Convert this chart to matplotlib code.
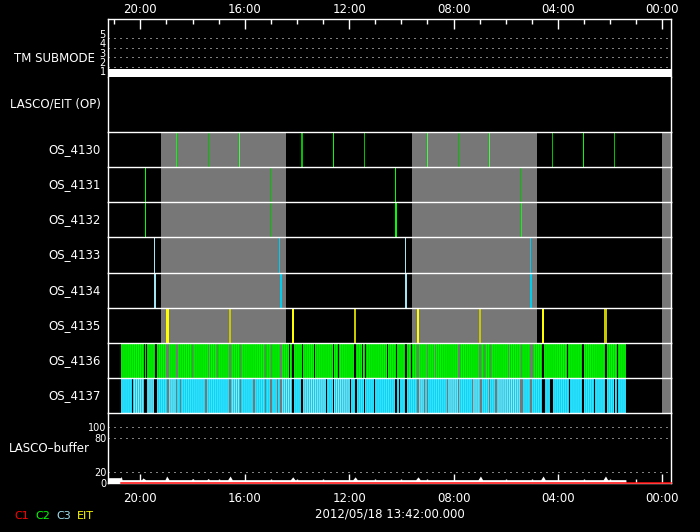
import matplotlib
matplotlib.use('Agg')
import matplotlib.pyplot as plt
import matplotlib.transforms as mtransforms
from matplotlib.ticker import MultipleLocator, FuncFormatter
from matplotlib.patches import Rectangle

# ---------------- data (time axis in hours, reversed) ----------------
x_range = (21.238, -0.33)
submode_level = 1
submode_ticks = [1, 2, 3, 4, 5]
buffer_ticks = [0, 20, 80, 100]

row_names = ["OS_4130", "OS_4131", "OS_4132", "OS_4133",
             "OS_4134", "OS_4135", "OS_4136", "OS_4137"]

# grey shaded intervals (start, end) in hours
gap_intervals = [(19.207, 14.418), (9.590, 4.801), (0.011, -0.33)]

os4130_times = [18.621, 17.395, 16.207, 13.816, 12.605, 11.418,
                9.004, 7.816, 6.628, 4.215, 3.027, 1.839]
os4131_times = [19.808, 15.019, 10.230, 5.441]
os4132_times = [19.808, 15.019, 10.203, 5.402]
os4133_times = [19.464, 14.674, 9.847, 5.057]
os4134_times = [19.452, 14.621, 9.820, 5.031]
os4135_times = [18.966, 16.563, 14.161, 11.774, 9.360, 6.973, 4.571, 2.184]

os4136_segments = [
    (20.751, 19.858), (19.820, 19.789), (19.743, 19.437), (19.360, 19.027),
    (18.900, 18.621), (18.567, 18.019), (17.969, 17.406), (17.368, 17.061),
    (17.023, 16.590), (16.513, 16.192), (16.130, 15.222), (15.184, 14.992),
    (14.966, 14.636), (14.571, 14.303), (14.264, 14.188), (14.111, 13.805),
    (13.766, 13.345), (13.307, 12.617), (12.579, 12.425), (12.387, 11.812),
    (11.736, 11.506), (11.468, 11.391), (11.353, 10.548), (10.510, 10.203),
    (10.165, 9.858), (9.782, 9.628), (9.590, 9.399), (9.322, 9.015),
    (8.977, 8.709), (8.671, 7.828), (7.751, 7.023), (6.946, 6.831),
    (6.793, 6.602), (6.563, 5.912), (5.874, 5.414), (5.376, 5.069),
    (4.954, 4.609), (4.533, 3.651), (3.613, 3.077), (3.000, 2.195),
    (2.119, 1.736), (1.697, 1.391)]

os4137_segments = [
    (20.751, 20.318), (19.360, 18.977), (18.594, 18.479), (18.441, 17.510),
    (17.456, 16.602), (16.130, 15.671), (15.617, 15.222), (15.184, 15.031),
    (14.954, 14.763), (14.724, 14.648), (14.111, 13.843), (12.847, 12.617),
    (11.927, 11.774), (11.697, 11.429), (11.391, 11.046), (11.008, 10.241),
    (10.165, 10.088), (10.050, 9.858), (9.782, 9.399), (9.092, 9.015),
    (8.977, 8.249), (7.789, 7.291), (6.908, 6.640), (6.602, 6.410),
    (5.337, 5.069), (4.992, 4.609), (4.494, 4.303), (4.188, 3.575),
    (3.536, 3.077), (3.000, 2.617), (2.579, 2.195), (2.119, 1.851),
    (1.812, 1.736), (1.697, 1.391)]
os4137_pale_segments = [
    (20.268, 19.858), (19.743, 19.475), (18.900, 18.644), (16.513, 16.192),
    (14.571, 14.188), (13.766, 12.885), (12.579, 11.966), (9.322, 9.130),
    (8.211, 7.828), (7.253, 6.985), (6.333, 5.452)]

buffer_time = [21.238, 20.751, 20.73, 20.70, 19.95, 19.90, 19.80, 19.05, 18.99,
               18.90, 18.05, 18.00, 17.95, 17.45, 17.40, 17.35, 16.65, 16.56,
               16.48, 14.25, 14.16, 14.08, 11.86, 11.77, 11.69, 9.45, 9.36,
               9.28, 7.06, 6.97, 6.89, 4.66, 4.57, 4.49, 2.27, 2.18, 2.10,
               1.40, 1.39]
buffer_value = [9.5, 9.5, 12, 6, 6, 9, 6, 6, 12.5,
                6, 6, 7.5, 6, 6, 8, 6, 6, 12.5,
                6, 6, 11, 6, 6, 11, 6, 6, 11,
                6, 6, 12.5, 6, 6, 12.5, 6, 6, 12.5, 6,
                6, 0]
c1_time = [20.751, -0.33]
c1_value = [0, 0]

date_text = "2012/05/18 13:42:00.000"
legend_labels = ["C1", "C2", "C3", "EIT"]

# ---------------- styles ----------------
W, H = 700, 532
PX = 0.72
WHITE = 'white'
GREY = '#777777'
FONT = dict(family='DejaVu Sans', size=8.5, color=WHITE)
plt.rcParams['hatch.linewidth'] = 0.7

green_b, green_d, green_l = '#00ff00', '#00c000', '#40ff40'
cyan_b, cyan_l = '#00ccee', '#a0e4f4'
yel_b, yel_d = '#ffff00', '#c8c800'

os4130_colors = [green_b, green_d, green_l, green_d, green_b, green_d,
                 green_l, green_d, green_l, green_d, green_b, green_d]
os4130_widths = [1, 1, 1, 2, 1, 1, 1, 1, 1, 1, 1, 1]
os4131_colors = [green_b, green_d, green_b, green_d]
os4132_colors = [green_b, green_d, green_b, green_b]
os4132_widths = [1, 1, 2, 1]
os4133_colors = [cyan_l, cyan_b, cyan_l, cyan_b]
os4134_colors = [cyan_l, cyan_b, cyan_l, cyan_b]
os4135_colors = [yel_b, yel_d, yel_b, yel_d, yel_b, yel_d, yel_b, yel_d]
os4135_widths = [3, 2, 2, 2, 2, 2, 2, 3]
legend_colors = ['#ff0000', '#00ff00', '#a0e0f0', '#ffff00']
legend_x = [14, 35, 56, 77]


def rect(y0, y1, x0=108, x1=671):
    return [x0 / W, 1 - y1 / H, (x1 - x0) / W, (y1 - y0) / H]


def px_text(x, y, s, **kw):
    d = dict(FONT)
    d.update(kw)
    fig.text(x / W, 1 - y / H, s, **d)


def style_axes(ax, top=True, bottom=False):
    ax.set_facecolor('black')
    ax.set_xlim(*x_range)
    for side in ['left', 'right']:
        ax.spines[side].set_color(WHITE)
        ax.spines[side].set_linewidth(1.0)
    ax.spines['top'].set_visible(top)
    ax.spines['top'].set_color(WHITE)
    ax.spines['top'].set_linewidth(1.0)
    ax.spines['bottom'].set_visible(bottom)
    ax.spines['bottom'].set_color(WHITE)
    ax.spines['bottom'].set_linewidth(1.0)
    ax.tick_params(left=False, right=False, top=False, bottom=False,
                   labelleft=False, labelbottom=False, labeltop=False)


hour_fmt = FuncFormatter(lambda v, p: f"{int(round(v)) % 24:02d}:00")

fig = plt.figure(figsize=(W / 100, H / 100), dpi=100, facecolor='black')

# ---- TM submode panel ----
ax_tm = fig.add_axes(rect(19, 77))
style_axes(ax_tm, top=True)
ax_tm.set_ylim(0.915, 7.04)
ax_tm.plot(list(x_range), [submode_level, submode_level], color=WHITE,
           lw=14 * PX, solid_capstyle='butt')
for lv in submode_ticks[1:]:
    ax_tm.axhline(lv, color=WHITE, lw=PX, linestyle=(0, (1, 5)))
ax_tm.set_yticks(submode_ticks)
ax_tm.set_yticklabels([str(v) for v in submode_ticks])
ax_tm.tick_params(axis='y', left=True, length=0, pad=1.5, labelleft=True,
                  labelsize=7, labelcolor=WHITE)
offset = mtransforms.ScaledTranslation(0, 4.7 / 100, fig.dpi_scale_trans)
for lab in ax_tm.get_yticklabels():
    lab.set_transform(lab.get_transform() + offset)
ax_tm.xaxis.set_major_locator(MultipleLocator(4))
ax_tm.xaxis.set_minor_locator(MultipleLocator(1))
ax_tm.xaxis.set_major_formatter(hour_fmt)
ax_tm.tick_params(axis='x', which='both', top=True, bottom=False,
                  labeltop=True, labelbottom=False, direction='in',
                  color=WHITE, labelcolor=WHITE, labelsize=8.5, width=1.0)
ax_tm.tick_params(axis='x', which='major', length=10 * PX, pad=2.0)
ax_tm.tick_params(axis='x', which='minor', length=5 * PX)

# ---- LASCO/EIT OP panel ----
ax_op = fig.add_axes(rect(77, 132))
style_axes(ax_op, top=False)

# ---- OS rows ----
row_edges = [132 + i * (413 - 132) / 8 for i in range(9)]
row_axes = []
for i in range(8):
    ax = fig.add_axes(rect(row_edges[i], row_edges[i + 1]))
    style_axes(ax, top=True)
    ax.set_ylim(0, 1)
    for g0, g1 in gap_intervals:
        ax.axvspan(g0, g1, color=GREY, lw=0, zorder=0)
    row_axes.append(ax)


def draw_lines(ax, times, colors, widths=None):
    if widths is None:
        widths = [1] * len(times)
    ax.vlines(times, 0, 1, colors=colors, linewidths=[w * PX for w in widths],
              antialiaseds=False, zorder=2)


draw_lines(row_axes[0], os4130_times, os4130_colors, os4130_widths)
draw_lines(row_axes[1], os4131_times, os4131_colors)
draw_lines(row_axes[2], os4132_times, os4132_colors, os4132_widths)
draw_lines(row_axes[3], os4133_times, os4133_colors)
draw_lines(row_axes[4], os4134_times, os4134_colors, [2, 2, 2, 2])
draw_lines(row_axes[5], os4135_times, os4135_colors, os4135_widths)


def draw_segments(ax, segs, face, hatch_col):
    for a, b in segs:
        ax.add_patch(Rectangle((a, 0), b - a, 1, facecolor=face,
                               edgecolor=hatch_col, hatch='|' * 8, lw=0,
                               zorder=2))


draw_segments(row_axes[6], os4136_segments, '#00d000', green_b)
draw_segments(row_axes[7], os4137_segments, '#00d8f8', '#50e0f8')
draw_segments(row_axes[7], os4137_pale_segments, '#00d0f0', '#b0e0ec')

for ax, name, y0, y1 in zip(row_axes, row_names, row_edges[:-1], row_edges[1:]):
    px_text(101, (y0 + y1) / 2, name, ha='right', va='center')

# ---- LASCO buffer panel ----
ax_buf = fig.add_axes(rect(413, 483))
style_axes(ax_buf, top=True, bottom=True)
ax_buf.set_ylim(0, 125)
for lv in buffer_ticks[1:]:
    ax_buf.axhline(lv, color=WHITE, lw=PX, linestyle=(0, (1, 5)))
ax_buf.fill_between(buffer_time, 0, buffer_value, color=WHITE, lw=0, zorder=2)
ax_buf.plot(c1_time, c1_value, color='#ff0000', lw=1.5 * PX, zorder=4,
            clip_on=False)
ax_buf.set_yticks(buffer_ticks)
ax_buf.set_yticklabels([str(v) for v in buffer_ticks])
ax_buf.tick_params(axis='y', left=True, length=0, pad=1.0, labelleft=True,
                   labelsize=7, labelcolor=WHITE)
ax_buf.xaxis.set_major_locator(MultipleLocator(4))
ax_buf.xaxis.set_minor_locator(MultipleLocator(1))
ax_buf.xaxis.set_major_formatter(hour_fmt)
ax_buf.tick_params(axis='x', which='both', bottom=True, top=False,
                   labelbottom=True, direction='in', color=WHITE,
                   labelcolor=WHITE, labelsize=8.5, width=1.0)
ax_buf.tick_params(axis='x', which='major', length=9 * PX, pad=6.5)
ax_buf.tick_params(axis='x', which='minor', length=4 * PX)

# ---- panel labels ----
px_text(95, 58, "TM SUBMODE", ha='right', va='center')
px_text(101, 104, "LASCO/EIT (OP)", ha='right', va='center')
px_text(90, 449, "LASCO\u2013buffer", ha='right', va='center')
px_text(390, 514, date_text, ha='center', va='center')
for lab, col, lx in zip(legend_labels, legend_colors, legend_x):
    px_text(lx, 516, lab, ha='left', va='center', color=col, size=8)

fig.savefig('out.png', dpi=100, facecolor='black')
